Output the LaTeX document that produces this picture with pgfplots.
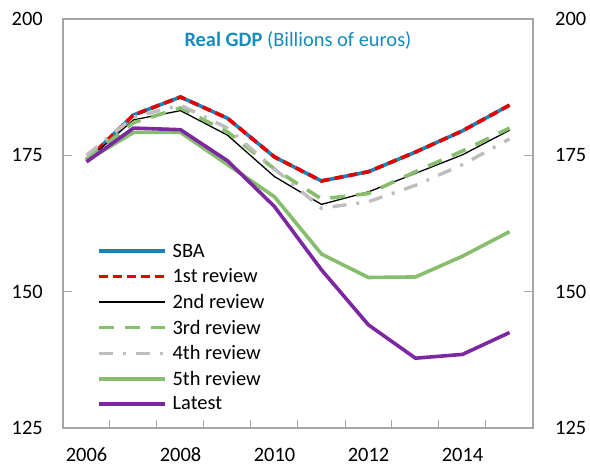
\documentclass[border=0pt]{standalone}
\usepackage{pgfplots}
\pgfplotsset{compat=1.18}
\usepackage{fontspec}
\setmainfont{Carlito}
\definecolor{sbablue}{RGB}{23,132,185}
\definecolor{titleblue}{RGB}{20,140,190}
\definecolor{revred}{RGB}{232,0,0}
\definecolor{revgreen}{RGB}{134,190,110}
\definecolor{revgray}{RGB}{190,190,190}
\definecolor{latest}{RGB}{125,40,160}
\definecolor{framegray}{RGB}{166,166,166}
\begin{document}
\begin{tikzpicture}
\path[use as bounding box] (-63bp,-39bp) rectangle (527bp,428bp);
\begin{axis}[
  scale only axis, width=470bp, height=409bp,
  xmin=2005.5, xmax=2015.5, ymin=125, ymax=200,
  xtick={2006,2008,2010,2012,2014},
  minor xtick={2006.5,2007.5,...,2014.5},
  ytick={125,150,175,200},
  xtick pos=lower, ytick pos=both,
  tick align=inside,
  major tick length=9bp, minor tick length=8bp,
  x tick style={draw=none},
  minor x tick style={draw=framegray, line width=1bp},
  y tick style={draw=framegray, line width=1bp},
  axis line style={draw=framegray, line width=1.3bp},
  xticklabel style={/pgf/number format/1000 sep={}, anchor=center, yshift=-27bp},
  yticklabel style={anchor=east, inner sep=0pt, xshift=-20bp},
  /pgf/number format/assume math mode=true,
  tick label style={font=\fontsize{20.5}{22}\selectfont},
  legend style={draw=none, fill=none, at={(0.072,0.04)}, anchor=south west,
    font=\fontsize{20.5}{22}\selectfont, row sep=10bp, column sep=6bp, inner sep=0pt,
    nodes={inner sep=0pt}},
  legend cell align=left,
  legend image code/.code={\draw[#1] (0bp,0bp) -- (66bp,0bp);},
]
\addplot[sbablue, line width=3.6bp] coordinates {
(2006,174.1) (2007,182.4) (2008,185.7) (2009,181.8) (2010,174.7)
(2011,170.3) (2012,172.0) (2013,175.6) (2014,179.5) (2015,184.2)};
\addlegendentry{SBA}
\addplot[revred, line width=3.6bp, dash pattern=on 9bp off 5bp] coordinates {
(2006,174.1) (2007,182.4) (2008,185.7) (2009,181.8) (2010,174.7)
(2011,170.3) (2012,172.0) (2013,175.6) (2014,179.5) (2015,184.2)};
\addlegendentry{1st review}
\addplot[black, line width=1.3bp] coordinates {
(2006,174.0) (2007,181.5) (2008,183.2) (2009,178.7) (2010,171.1)
(2011,166.0) (2012,168.3) (2013,171.7) (2014,175.1) (2015,179.6)};
\addlegendentry{2nd review}
\addplot[revgreen, line width=3.6bp, dash pattern=on 15bp off 11bp] coordinates {
(2006,174.3) (2007,181.0) (2008,183.7) (2009,179.3) (2010,172.5)
(2011,167.0) (2012,168.0) (2013,172.0) (2014,175.8) (2015,180.0)};
\addlegendentry{3rd review}
\addplot[revgray, line width=3.4bp, dash pattern=on 14bp off 10bp on 3bp off 10bp] coordinates {
(2006,175.0) (2007,182.0) (2008,184.2) (2009,180.0) (2010,172.5)
(2011,165.3) (2012,166.5) (2013,169.5) (2014,173.3) (2015,178.0)};
\addlegendentry{4th review}
\addplot[revgreen, line width=3.6bp] coordinates {
(2006,174.0) (2007,179.2) (2008,179.2) (2009,173.3) (2010,167.4)
(2011,156.9) (2012,152.6) (2013,152.7) (2014,156.5) (2015,161.0)};
\addlegendentry{5th review}
\addplot[latest, line width=3.6bp] coordinates {
(2006,173.8) (2007,180.0) (2008,179.7) (2009,174.0) (2010,165.6)
(2011,154.0) (2012,143.9) (2013,137.8) (2014,138.5) (2015,142.5)};
\addlegendentry{Latest}
\node[font=\fontsize{20.5}{22}\selectfont, text=titleblue] at (rel axis cs:0.5,0.948)
  {\textbf{Real GDP} (Billions of euros)};
\end{axis}
\begin{axis}[
  scale only axis, width=470bp, height=409bp,
  xmin=2005.5, xmax=2015.5, ymin=125, ymax=200,
  ytick={125,150,175,200}, xtick=\empty,
  axis x line=none, axis y line*=right,
  y axis line style={draw=none}, major tick length=0pt,
  yticklabel style={anchor=west, inner sep=0pt, xshift=22bp},
  /pgf/number format/assume math mode=true,
  tick label style={font=\fontsize{20.5}{22}\selectfont},
]
\addplot[draw=none] coordinates {(2006,150)};
\end{axis}
\end{tikzpicture}
\end{document}
